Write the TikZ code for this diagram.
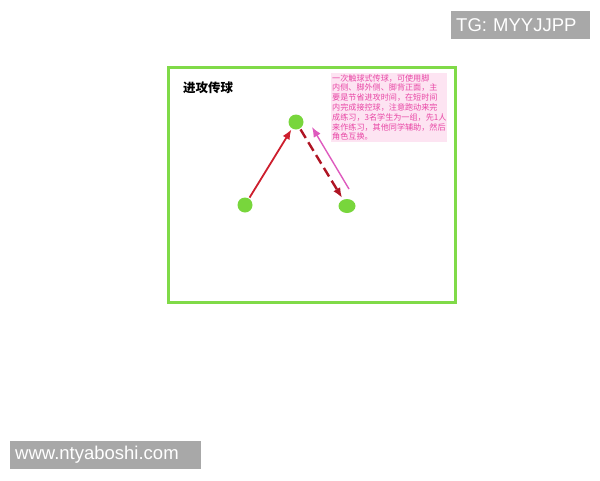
\documentclass[tikz,border=0pt]{standalone}
\usepackage{fontspec}
\setmainfont{Liberation Sans}
\newfontfamily\cjk{Noto Sans CJK SC}
\usetikzlibrary{arrows.meta,shapes.geometric}
\definecolor{fieldgreen}{RGB}{128,218,72}
\definecolor{playergreen}{RGB}{120,214,60}
\definecolor{passred}{RGB}{205,30,45}
\definecolor{runred}{RGB}{175,20,35}
\definecolor{runpink}{RGB}{222,90,190}
\definecolor{notetext}{RGB}{232,70,165}
\definecolor{notepink}{RGB}{253,228,242}
\definecolor{markgray}{RGB}{168,168,168}
\tikzset{
	player/.style={circle, fill=playergreen, minimum size=15pt, inner sep=0pt},
	tip/.style={-{Latex[length=10pt,width=8pt]}},
	tagbox/.style={fill=markgray, text=white, font=\fontsize{18.5}{20}\selectfont, anchor=west, inner xsep=5pt, minimum height=28pt, text width=#1, align=left}
}
\begin{document}
\begin{tikzpicture}[x=1pt,y=-1pt]
		\useasboundingbox (0,0) rectangle (600,480);
		% field
		\draw[fieldgreen, line width=3pt] (168,67) rectangle (455,302);
		\node[anchor=west, inner sep=0pt, font=\cjk\bfseries\fontsize{12.5}{14}\selectfont] (title) at (183,88) {进攻传球};
		\node[anchor=north west, fill=notepink, text=notetext, inner sep=1pt, align=left, font=\cjk\fontsize{8.1}{9.8}\selectfont] (note) at (331,73) {一次触球式传球，可使用脚\\内侧、脚外侧、脚背正面，主\\要是节省进攻时间，在短时间\\内完成接控球，注意跑动来完\\成练习，3名学生为一组，先1人\\来作练习，其他同学辅助，然后\\角色互换。};
		% players
		\node[player] (top) at (296,122) {};
		\node[player] (left) at (245,205) {};
		\node[player, ellipse, minimum width=17pt, minimum height=14pt] (right) at (347,206) {};
		\coordinate (runstart) at (349,189);
		\coordinate (runend) at (312,127);
		% passes
		\draw[passred, line width=1.8pt, tip, shorten <=1pt, shorten >=1pt] (left) -- (top);
		\draw[runred, line width=2.4pt, dash pattern=on 10pt off 5pt, tip, shorten <=1pt, shorten >=2pt] (top) -- (right);
		\draw[runpink, line width=1.4pt, tip] (runstart) -- (runend);
		% watermarks
		\node[tagbox=129pt] (tg) at (451,25) {TG: MYYJJPP};
		\node[tagbox=181pt] (site) at (10,454.5) {www.ntyaboshi.com};
\end{tikzpicture}
\end{document}
